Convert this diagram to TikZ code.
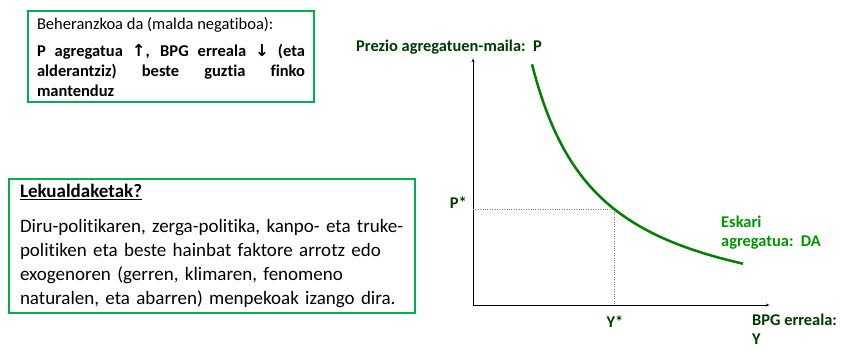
\documentclass[tikz,border=0pt]{standalone}
\usepackage{fontspec}
\setmainfont{Carlito}[Ligatures=NoCommon]
\newfontfamily\arrowfont{DejaVu Sans}
\usetikzlibrary{arrows}
\usetikzlibrary{positioning}
\definecolor{boxgreen}{RGB}{0,176,80}
\definecolor{curvegreen}{RGB}{0,128,0}
\definecolor{labelgreen}{RGB}{0,58,0}
\definecolor{dagreen}{RGB}{0,150,0}
\tikzstyle{line} = [draw, -latex']
\tikzstyle{infobox} = [draw=boxgreen, line width=2pt, rectangle, anchor=north west]

\begin{document}
\begin{tikzpicture}[x=1pt, y=1pt,
        axislabel/.style={font=\bfseries\fontsize{16.4}{19}\selectfont,
            text=labelgreen, inner sep=0pt, align=left},
        helper/.style={dotted, thin, gray}]
    \useasboundingbox (0,0) rectangle (841,349);
    %% Text boxes
    \node [infobox, text width=268pt, inner xsep=9pt, inner ysep=6pt, align=justify,
        font=\fontsize{16.5}{20}\selectfont] at (27,339) (slope)
        {Beheranzkoa da (malda negatiboa):\par\vspace{7pt}
        \textbf{P agregatua {\arrowfont\bfseries↑}, BPG erreala {\arrowfont\bfseries↓} (eta\linebreak
        alderantziz) beste guztia finko\linebreak mantenduz}};
    \node [infobox, text width=384pt, inner xsep=11pt, inner ysep=5pt, align=left,
        font=\fontsize{19}{24}\selectfont] at (8,171) (shifts)
        {\textbf{\underline{Lekualdaketak?}}\par\vspace{11pt}
        Diru-politikaren, zerga-politika, kanpo- eta truke-\\
        politiken eta beste hainbat faktore arrotz edo\\
        exogenoren (gerren, klimaren, fenomeno\\
        naturalen, eta abarren) menpekoak izango dira.};
    %% Axes
    \coordinate (O) at (473,44);
    \coordinate (ytip) at (473,291);
    \coordinate (xtip) at (770,44);
    \coordinate (E) at (614,140);
    \path [line, thin] (O) to (ytip);
    \path [line, thin] (O) to (xtip);
    \node [axislabel, anchor=west] at (356,302) (plabel) {Prezio agregatuen-maila:\ \ P};
    \node [axislabel, anchor=south west] at (752,4) (ylabel) {BPG erreala:\\Y};
    %% Equilibrium
    \draw [helper] (O |- E) -- (E) -- (E |- O);
    \node [axislabel, anchor=east] at (467,146) (pstar) {P*};
    \node [axislabel, anchor=north] at (615,33) (ystar) {Y*};
    %% Demand curve
    \draw [curvegreen, line width=2.5pt] plot [domain=532:743, samples=80]
        (\x, {22+176/((\x-465)/100)});
    \node [axislabel, text=dagreen, anchor=west] at (721,116) (da) {Eskari\\agregatua:\ \ DA};
\end{tikzpicture}
\end{document}
